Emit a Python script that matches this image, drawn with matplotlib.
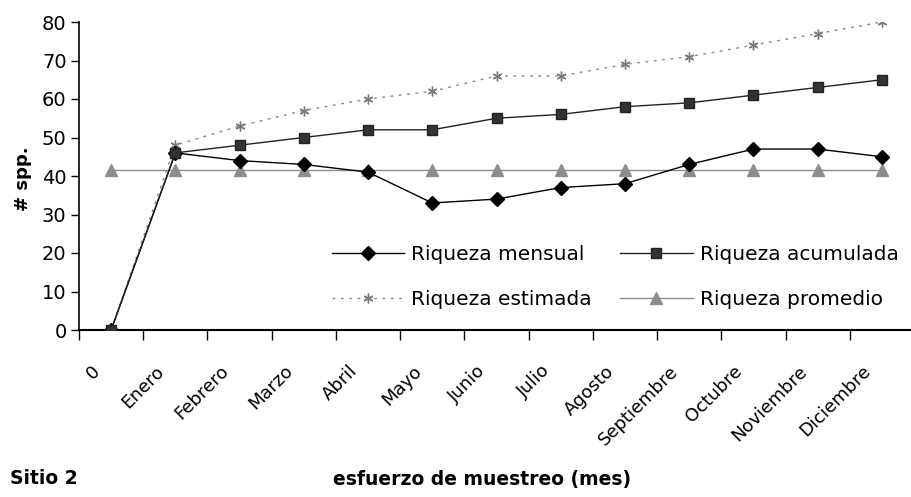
import matplotlib
matplotlib.use("Agg")
import matplotlib.pyplot as plt
import matplotlib.transforms as mtransforms
import numpy as np

categories = ["0", "Enero", "Febrero", "Marzo", "Abril", "Mayo", "Junio", "Julio",
              "Agosto", "Septiembre", "Octubre", "Noviembre", "Diciembre"]
riqueza_mensual = [0, 46, 44, 43, 41, 33, 34, 37, 38, 43, 47, 47, 45]
riqueza_acumulada = [0, 46, 48, 50, 52, 52, 55, 56, 58, 59, 61, 63, 65]
riqueza_estimada = [0, 48, 53, 57, 60, 62, 66, 66, 69, 71, 74, 77, 80]
riqueza_promedio = [41.5] * 13
y_ticks = [0, 10, 20, 30, 40, 50, 60, 70, 80]

plt.rcParams['font.family'] = ['DejaVu Sans']

fig = plt.figure(figsize=(9.12, 4.97), dpi=100)
ax = fig.add_axes([79/912, 1 - 330/497, 835/912, (330 - 22)/497])

x = np.arange(len(categories))
star = (6, 2, 0)
l1, = ax.plot(x, riqueza_mensual, color='black', lw=1.0, marker='D', ms=7,
              markerfacecolor='black', markeredgecolor='black', zorder=4)
l2, = ax.plot(x, riqueza_acumulada, color='#222222', lw=1.0, marker='s', ms=7.5,
              markerfacecolor='#333333', markeredgecolor='#222222', zorder=5)
l3, = ax.plot(x, riqueza_estimada, color='#8a8a8a', lw=1.0, ls=(0, (2, 4)), marker=star,
              ms=7, markeredgecolor='#7a7a7a', markeredgewidth=1.0, zorder=3)
l4, = ax.plot(x, riqueza_promedio, color='#8c8c8c', lw=1.0, marker='^', ms=8.5,
              markerfacecolor='#8c8c8c', markeredgecolor='#8c8c8c', zorder=2)

ax.set_xlim(-0.5, len(categories) - 0.5)
ax.set_ylim(0, 80)
ax.set_yticks(y_ticks)
ax.set_yticklabels([str(v) for v in y_ticks], fontsize=14)
ax.tick_params(axis='y', direction='out', length=6, width=1, pad=3)

ax.set_xticks(x)
ax.set_xticklabels(categories, rotation=45, ha='right', rotation_mode='anchor',
                   fontsize=13)
ax.tick_params(axis='x', which='major', length=0, pad=23)
offset = mtransforms.ScaledTranslation(-20/100, 0, fig.dpi_scale_trans)
for lbl in ax.get_xticklabels():
    lbl.set_transform(lbl.get_transform() + offset)
ax.set_xticks(np.arange(-0.5, len(categories) + 0.5, 1), minor=True)
ax.tick_params(axis='x', which='minor', direction='out', length=7, width=1)

for s in ['top', 'right']:
    ax.spines[s].set_visible(False)
ax.spines['left'].set_linewidth(1.2)
ax.spines['bottom'].set_linewidth(1.5)

ax.set_ylabel('# spp.', fontsize=13, fontweight='bold')
ax.yaxis.set_label_coords(-0.056, 0.49)

leg = ax.legend([l1, l3, l2, l4],
                ['Riqueza mensual', 'Riqueza estimada', 'Riqueza acumulada', 'Riqueza promedio'],
                ncol=2, frameon=False, fontsize=14.5, loc='center',
                bbox_to_anchor=(0.642, 0.172), borderpad=0, handlelength=3.6,
                columnspacing=1.4, handletextpad=0.35, labelspacing=1.25)

fig.text(10/912, 1 - 479/497, 'Sitio 2', fontsize=13.5, fontweight='bold', va='center')
fig.text(482/912, 1 - 479/497, 'esfuerzo de muestreo (mes)', fontsize=13.5,
         fontweight='bold', va='center', ha='center')

fig.savefig('out.png', dpi=100)
